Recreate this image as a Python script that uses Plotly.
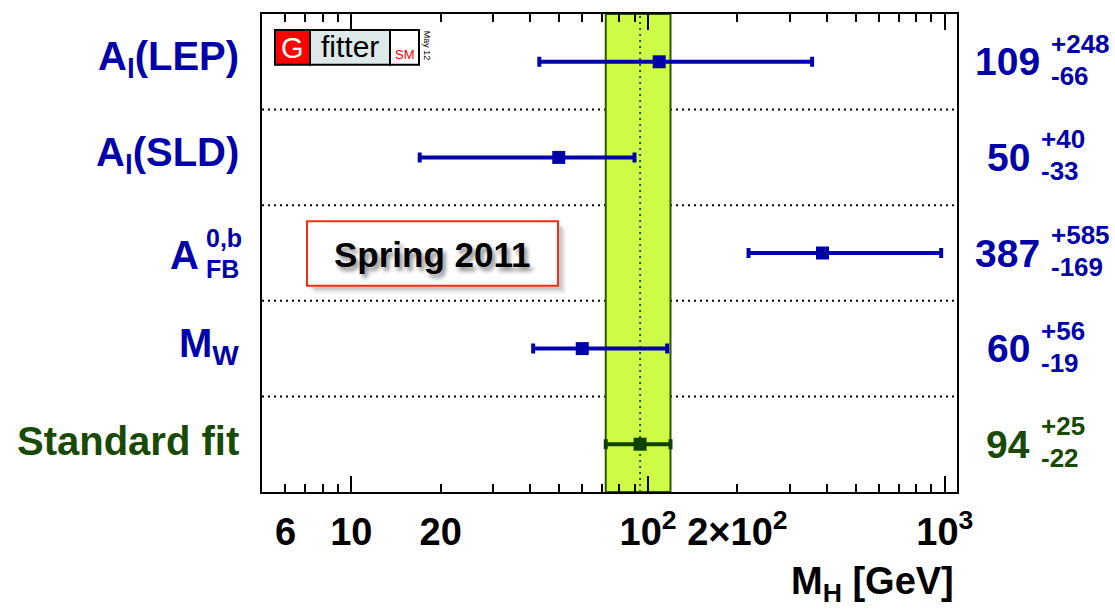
import plotly.graph_objects as go

# Higgs mass fits from individual electroweak observables
labels = ["A<sub>l</sub>(LEP)", "A<sub>l</sub>(SLD)", "AFB", "M<sub>W</sub>", "Standard fit"]
mh_central = [109, 50, 387, 60, 94]
mh_err_up = [248, 40, 585, 56, 25]
mh_err_down = [66, 33, 169, 19, 22]
row_pos = [4.5, 3.5, 2.5, 1.5, 0.5]

tick_values = [6, 10, 20, 100, 200, 1000]
tick_texts = ["6", "10", "20", "10<sup>2</sup>", "2\u00d710<sup>2</sup>", "10<sup>3</sup>"]
minor_values = [6, 7, 8, 9, 20, 30, 40, 50, 60, 70, 80, 90, 200, 300, 400, 500, 600, 700, 800, 900]

BLUE = "#0000aa"
GREEN = "#184a04"
MARK_GREEN = "#0f4200"
BAND = "rgb(206,252,70)"
FONT = "Liberation Sans, Arial, Helvetica, sans-serif"

W, H = 1115, 614
L, R, T, B = 262, 957, 12, 492


def px(x):
    return (x - L) / (R - L)


def py(y):
    return (B - y) / (B - T)


fig = go.Figure()

colors = [BLUE, BLUE, BLUE, BLUE, MARK_GREEN]
for i in range(len(mh_central)):
    fig.add_trace(go.Scatter(
        x=[mh_central[i]], y=[row_pos[i]], mode="markers",
        marker=dict(symbol="square", size=13, color=colors[i], line=dict(width=0)),
        error_x=dict(type="data", symmetric=False, array=[mh_err_up[i]],
                     arrayminus=[mh_err_down[i]], color=colors[i], thickness=4, width=5),
        showlegend=False, hoverinfo="skip",
    ))

# invisible trace carrying the labelled tick axis
fig.add_trace(go.Scatter(x=[mh_central[-1]], y=[row_pos[-1]], xaxis="x2", mode="markers",
                         marker=dict(opacity=0), showlegend=False, hoverinfo="skip"))

shapes = []
# standard fit 1-sigma band
fit = len(mh_central) - 1
lo = mh_central[fit] - mh_err_down[fit]
hi = mh_central[fit] + mh_err_up[fit]
shapes.append(dict(type="rect", xref="x", yref="y", x0=lo, x1=hi, y0=0, y1=5,
                   fillcolor=BAND, line=dict(color="#2a5a00", width=2), layer="below"))
shapes.append(dict(type="line", xref="x", yref="y", x0=mh_central[fit], x1=mh_central[fit],
                   y0=0, y1=5, line=dict(color="#1f5a00", width=2, dash="2px,4px"), layer="below"))
# row separators
for ysep in [1, 2, 3, 4]:
    shapes.append(dict(type="line", xref="paper", yref="y", x0=0, x1=1, y0=ysep, y1=ysep,
                       line=dict(color="black", width=2, dash="2px,4px"), layer="below"))

# Gfitter logo
shapes += [
    dict(type="rect", xref="paper", yref="paper", x0=px(275), x1=px(310), y0=py(63), y1=py(28),
         fillcolor="#ff0000", line=dict(color="black", width=2)),
    dict(type="rect", xref="paper", yref="paper", x0=px(310), x1=px(390), y0=py(63), y1=py(28),
         fillcolor="#dde9e9", line=dict(color="black", width=2)),
    dict(type="rect", xref="paper", yref="paper", x0=px(390), x1=px(419), y0=py(63), y1=py(28),
         fillcolor="white", line=dict(color="black", width=2)),
]
# "Spring 2011" box with soft shadow
for off, op in [(8, 0.10), (6, 0.15), (4, 0.2)]:
    shapes.append(dict(type="rect", xref="paper", yref="paper", x0=px(307 + off), x1=px(558 + off),
                       y0=py(285 + off), y1=py(220 + off), fillcolor="rgba(120,120,120,%s)" % op,
                       line=dict(width=0)))
shapes.append(dict(type="rect", xref="paper", yref="paper", x0=px(307), x1=px(558),
                   y0=py(285), y1=py(220), fillcolor="white", line=dict(color="#ff2a10", width=2)))

ann = []
# left-hand observable names
for i, lab in enumerate(labels):
    if lab == "AFB":
        continue
    ann.append(dict(xref="paper", yref="y", x=px(241), y=row_pos[i] + 0.03, text=lab,
                    xanchor="right", yanchor="middle", showarrow=False,
                    font=dict(family=FONT, size=40, color=GREEN if i == fit else BLUE, weight="bold")))
ann += [
    dict(xref="paper", yref="paper", x=px(201), y=py(254), text="A", xanchor="right", yanchor="middle",
         showarrow=False, font=dict(family=FONT, size=40, color=BLUE, weight="bold")),
    dict(xref="paper", yref="paper", x=px(204), y=py(237), text="0,b", xanchor="left", yanchor="middle",
         showarrow=False, font=dict(family=FONT, size=25, color=BLUE, weight="bold")),
    dict(xref="paper", yref="paper", x=px(204), y=py(268), text="FB", xanchor="left", yanchor="middle",
         showarrow=False, font=dict(family=FONT, size=25, color=BLUE, weight="bold")),
]

# right-hand fitted values
for i in range(len(mh_central)):
    c = GREEN if i == fit else BLUE
    num = str(mh_central[i])
    right = 1010 + len(num) * 21.5 / 2
    yc = B - (row_pos[i] / 5.0) * (B - T)
    ann.append(dict(xref="paper", yref="paper", x=px(right), y=py(yc), text=num,
                    xanchor="right", yanchor="middle", showarrow=False,
                    font=dict(family=FONT, size=39, color=c, weight="bold")))
    ann.append(dict(xref="paper", yref="paper", x=px(right + 7), y=py(yc - 18), text="+%d" % mh_err_up[i],
                    xanchor="left", yanchor="middle", showarrow=False,
                    font=dict(family=FONT, size=26, color=c, weight="bold")))
    ann.append(dict(xref="paper", yref="paper", x=px(right + 7), y=py(yc + 14), text="-%d" % mh_err_down[i],
                    xanchor="left", yanchor="middle", showarrow=False,
                    font=dict(family=FONT, size=26, color=c, weight="bold")))

# logo text
ann += [
    dict(xref="paper", yref="paper", x=px(292.5), y=py(46), text="G", showarrow=False,
         xanchor="center", yanchor="middle", font=dict(family=FONT, size=29, color="white")),
    dict(xref="paper", yref="paper", x=px(350), y=py(45), text="fitter", showarrow=False,
         xanchor="center", yanchor="middle", font=dict(family=FONT, size=30, color="black")),
    dict(xref="paper", yref="paper", x=px(404.5), y=py(53), text="SM", showarrow=False,
         xanchor="center", yanchor="middle", font=dict(family=FONT, size=13, color="#ff0000")),
    dict(xref="paper", yref="paper", x=px(427), y=py(44), text="May 12", showarrow=False, textangle=90,
         xanchor="center", yanchor="middle", font=dict(family=FONT, size=9, color="black")),
]
# campaign label
ann.append(dict(xref="paper", yref="paper", x=px(432), y=py(254), text="Spring 2011", showarrow=False,
                xanchor="center", yanchor="middle",
                font=dict(family=FONT, size=35, color="black", weight="bold",
                          shadow="3px 4px 4px rgba(0,0,0,0.45)")))
# axis title
ann.append(dict(xref="paper", yref="paper", x=px(956), y=py(584), text="M<sub>H</sub> [GeV]",
                xanchor="right", yanchor="middle", showarrow=False,
                font=dict(family=FONT, size=38, color="black", weight="bold")))

fig.update_layout(
    width=W, height=H,
    margin=dict(l=L, r=W - R, t=T, b=H - B, pad=0),
    paper_bgcolor="white", plot_bgcolor="white",
    showlegend=False,
    xaxis=dict(type="log", range=[0.699, 3.041], showgrid=False, zeroline=False,
               showline=True, linecolor="black", linewidth=2, mirror="ticks",
               tickmode="array", tickvals=[10, 100, 1000], ticks="inside", ticklen=16,
               tickwidth=2, tickcolor="black", showticklabels=False,
               minor=dict(tickmode="array", tickvals=minor_values, ticks="inside", ticklen=8,
                          tickwidth=2, tickcolor="black", showgrid=False)),
    xaxis2=dict(type="log", overlaying="x", matches="x", side="bottom", range=[0.699, 3.041],
                showgrid=False, zeroline=False, showline=False,
                tickmode="array", tickvals=tick_values, ticktext=tick_texts, ticks="",
                ticklabelstandoff=14,
                tickfont=dict(family=FONT, size=38, color="black", weight="bold")),
    yaxis=dict(range=[0, 5], showgrid=False, zeroline=False, showticklabels=False, ticks="",
               showline=True, linecolor="black", linewidth=2, mirror=True),
    shapes=shapes, annotations=ann,
)

fig.write_html("out.html")
